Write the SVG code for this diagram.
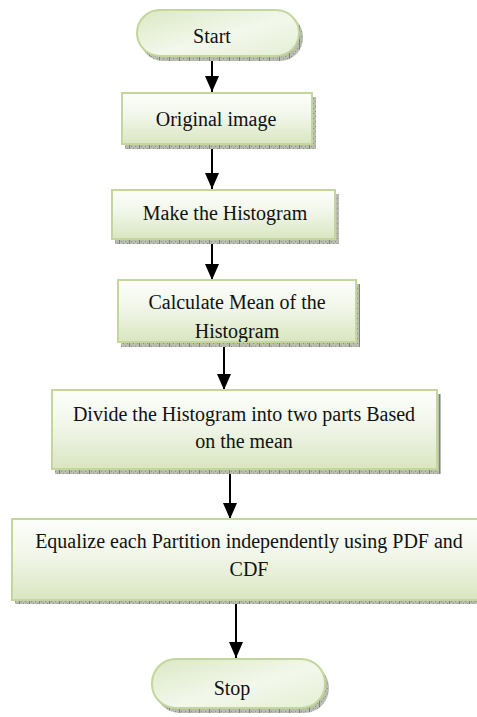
<svg xmlns="http://www.w3.org/2000/svg" width="477" height="717" viewBox="0 0 477 717">
<defs>
<linearGradient id="boxFill" x1="0" y1="0" x2="0" y2="1">
<stop offset="0" stop-color="#fdfefb"/>
<stop offset="0.45" stop-color="#f1f6e9"/>
<stop offset="1" stop-color="#d9e6c0"/>
</linearGradient>
<linearGradient id="pillFill" x1="0" y1="0" x2="1" y2="1">
<stop offset="0" stop-color="#dbe8c4"/>
<stop offset="0.55" stop-color="#f3f8ec"/>
<stop offset="1" stop-color="#e4eed3"/>
</linearGradient>
<pattern id="hatch" width="10" height="5" patternUnits="userSpaceOnUse">
<rect width="10" height="5" fill="#b9bcb1"/>
<rect x="1" y="1" width="1" height="1" fill="#8e9388"/>
<rect x="3" y="3" width="1" height="1" fill="#8e9388"/>
<rect x="5" y="1" width="1" height="1" fill="#8e9388"/>
<rect x="7" y="3" width="1" height="1" fill="#8e9388"/>
<rect x="9" y="0" width="1" height="5" fill="#7e8378"/>
</pattern>
<marker id="arrow" markerWidth="16" markerHeight="14" refX="16" refY="7" orient="auto" markerUnits="userSpaceOnUse" viewBox="0 0 16 14">
<path d="M0,0 L16,7 L0,14 Z" fill="#000"/>
</marker>
<clipPath id="calcClip"><rect x="118" y="280" width="238" height="62"/></clipPath>
</defs>
<style>
.box{fill:url(#boxFill);stroke:#c3d69b;stroke-width:2}
.pill{fill:url(#pillFill);stroke:#c3d69b;stroke-width:2}
.shadow{fill:url(#hatch)}
.lbl{font-family:"Liberation Serif","Times New Roman",serif;font-size:20px;fill:#111;text-anchor:middle}
.conn{stroke:#000;stroke-width:2;fill:none}
</style>
<rect width="477" height="717" fill="#fff"/>

<g id="connectors">
<line class="conn" x1="212" y1="60" x2="212" y2="92" marker-end="url(#arrow)"/>
<line class="conn" x1="212" y1="149" x2="212" y2="189" marker-end="url(#arrow)"/>
<line class="conn" x1="212" y1="244" x2="212" y2="280" marker-end="url(#arrow)"/>
<line class="conn" x1="224" y1="347" x2="224" y2="390" marker-end="url(#arrow)"/>
<line class="conn" x1="230" y1="474" x2="230" y2="519" marker-end="url(#arrow)"/>
<line class="conn" x1="236" y1="604" x2="236" y2="658" marker-end="url(#arrow)"/>
</g>

<g id="start">
<rect class="shadow" x="140" y="14" width="163" height="47" rx="23" ry="23"/>
<rect class="pill" x="137" y="10" width="162" height="46" rx="23" ry="23"/>
<text class="lbl" x="212" y="43">Start</text>
</g>

<g id="original-image">
<rect class="shadow" x="125" y="97" width="191" height="52"/>
<rect class="box" x="122" y="93" width="190" height="51"/>
<text class="lbl" x="216" y="126">Original image</text>
</g>

<g id="make-histogram">
<rect class="shadow" x="115" y="194" width="224" height="50"/>
<rect class="box" x="112" y="190" width="223" height="49"/>
<text class="lbl" x="225" y="220">Make the Histogram</text>
</g>

<g id="calculate-mean">
<rect class="shadow" x="121" y="284" width="239" height="63"/>
<rect class="box" x="118" y="280" width="238" height="62"/>
<g clip-path="url(#calcClip)">
<text class="lbl" x="237" y="309">Calculate Mean of the</text>
<text class="lbl" x="237" y="338">Histogram</text>
</g>
</g>

<g id="divide">
<rect class="shadow" x="55" y="394" width="386" height="80"/>
<rect class="box" x="52" y="390" width="385" height="79"/>
<text class="lbl" x="244" y="421">Divide the Histogram into two parts Based</text>
<text class="lbl" x="244" y="448">on the mean</text>
</g>

<g id="equalize">
<rect class="shadow" x="15" y="522" width="470" height="82"/>
<rect class="box" x="12" y="519" width="475" height="81"/>
<text class="lbl" x="249" y="548">Equalize each Partition independently using PDF and</text>
<text class="lbl" x="249" y="576">CDF</text>
</g>

<g id="stop">
<rect class="shadow" x="155" y="663" width="174" height="50" rx="25" ry="25"/>
<rect class="pill" x="152" y="659" width="173" height="49" rx="24" ry="24"/>
<text class="lbl" x="232" y="695">Stop</text>
</g>
</svg>
